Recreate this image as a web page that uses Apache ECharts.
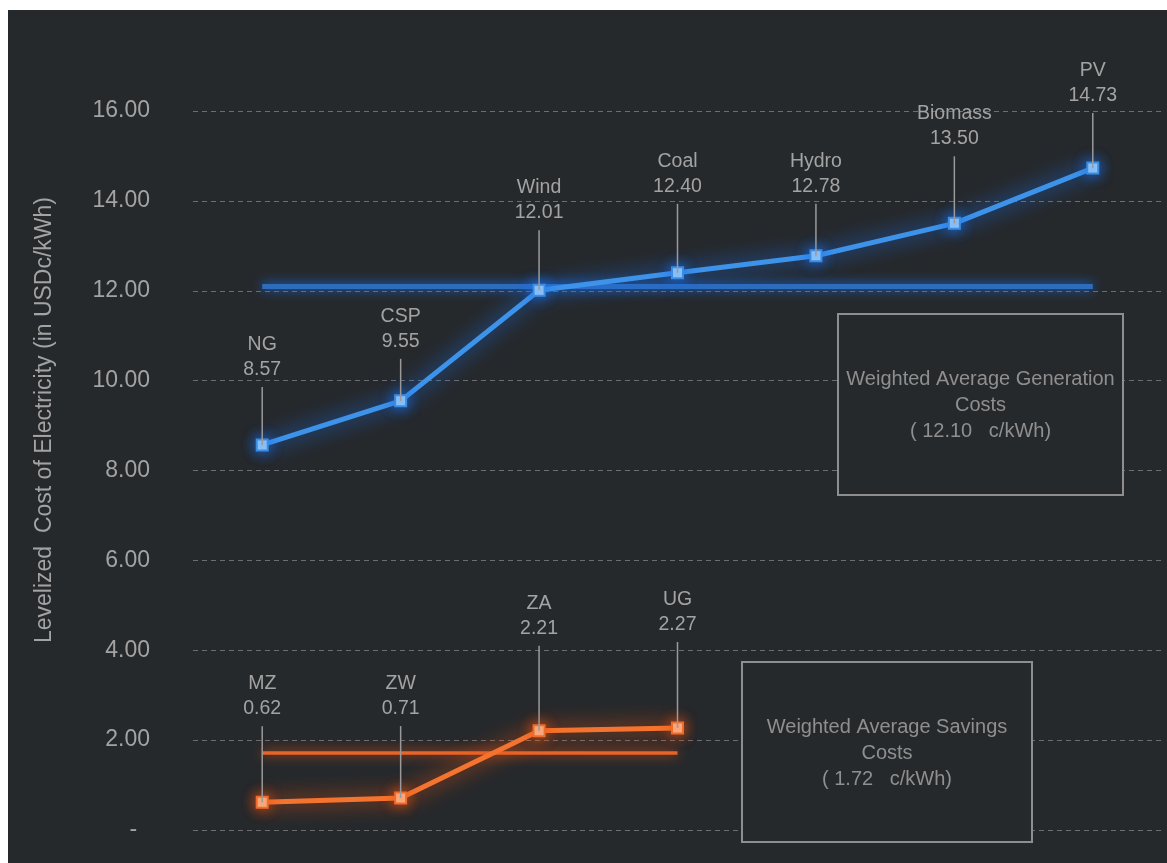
<!DOCTYPE html>
<html>
<head>
<meta charset="utf-8">
<title>Levelized Cost of Electricity</title>
<script src="https://cdn.jsdelivr.net/npm/echarts@6/dist/echarts.min.js"></script>
<style>
  html, body { margin: 0; padding: 0; background: #ffffff; }
  #chart { position: absolute; left: 8px; top: 10px; width: 1159px; height: 853px; }
</style>
</head>
<body>
<div id="chart"></div>
<script>
// Generation technologies and their levelized costs (USDc/kWh)
const genCategories = ['NG', 'CSP', 'Wind', 'Coal', 'Hydro', 'Biomass', 'PV'];
const genCosts = [8.57, 9.55, 12.01, 12.40, 12.78, 13.50, 14.73];
const genAverage = 12.10;

// Savings options by country (USDc/kWh)
const savingsCountries = ['MZ', 'ZW', 'ZA', 'UG'];
const savingsCosts = [0.62, 0.71, 2.21, 2.27];
const savingsAverage = 1.72;

// Value axis
const yMin = 0;
const yMax = 16;
const yStep = 2;

// Leader-line lengths (px) for the point callouts
const genLeader = [58, 42, 60, 69, 52, 67, 55];
const savingsLeader = [76, 72, 85, 86];

const FONT = "'Liberation Sans', Arial, sans-serif";
const TEXT = '#a3a3a3';
const BG = '#26292c';

const chart = echarts.init(document.getElementById('chart'));

function calloutRenderer(names, lifts) {
  return function (params, api) {
    const i = params.dataIndex;
    const v = api.value(1);
    const pt = api.coord([api.value(0), v]);
    const top = pt[1] - lifts[i];
    return {
      type: 'group',
      children: [
        {
          type: 'line',
          shape: { x1: pt[0], y1: pt[1], x2: pt[0], y2: top },
          style: { stroke: '#9a9a9a', lineWidth: 1.5 }
        },
        {
          type: 'text',
          x: pt[0],
          y: top - 5,
          style: {
            text: names[i] + '\n' + v.toFixed(2),
            fill: TEXT,
            fontSize: 19.5,
            fontFamily: FONT,
            lineHeight: 25,
            align: 'center',
            verticalAlign: 'bottom'
          }
        }
      ]
    };
  };
}

function glowLine(name, values, core, glow, markFill, markBorder, avg, avgEnd, avgColor, avgWidth) {
  return {
    name: name,
    type: 'line',
    data: values,
    z: 3,
    symbol: 'rect',
    symbolSize: 11,
    lineStyle: { color: core, width: 5, shadowBlur: 20, shadowColor: glow },
    itemStyle: { color: markFill, borderColor: markBorder, borderWidth: 2, shadowBlur: 14, shadowColor: glow },
    emphasis: { disabled: true },
    markLine: {
      silent: true,
      symbol: 'none',
      label: { show: false },
      z: 2,
      lineStyle: { color: avgColor, width: avgWidth, type: 'solid', shadowBlur: 12, shadowColor: glow, opacity: 1 },
      data: [[{ xAxis: 0, yAxis: avg }, { xAxis: avgEnd, yAxis: avg }]]
    }
  };
}

// Framed note box with centred text
function noteBox(x, y, w, h, text) {
  return {
    type: 'group',
    x: x,
    y: y,
    children: [
      { type: 'rect', z: 100, shape: { x: 0, y: 0, width: w, height: h },
        style: { fill: BG, stroke: '#8e8e8e', lineWidth: 2 } },
      { type: 'text', z: 101, x: w / 2, y: h / 2 + 1,
        style: {
          text: text,
          fill: '#8f8f8f', fontSize: 20, fontFamily: FONT, lineHeight: 26,
          align: 'center', verticalAlign: 'middle'
        } }
    ]
  };
}

const option = {
  backgroundColor: BG,
  animation: false,
  grid: { left: 185, right: 5, top: 101, bottom: 33 },
  xAxis: {
    type: 'category',
    data: genCategories,
    axisLine: { show: false },
    axisTick: { show: false },
    axisLabel: { show: false },
    splitLine: { show: false }
  },
  yAxis: {
    type: 'value',
    min: yMin,
    max: yMax,
    interval: yStep,
    axisLine: { show: false },
    axisTick: { show: false },
    axisLabel: {
      color: TEXT,
      fontSize: 23,
      fontFamily: FONT,
      margin: 43,
      formatter: function (v) { return v === 0 ? '-  ' : v.toFixed(2); }
    },
    splitLine: { lineStyle: { color: '#6b6d70', width: 1, type: [5, 4] } }
  },
  series: [
    glowLine('Generation', genCosts, '#3d92ea', 'rgba(25,115,245,1)', '#a3d0f5', '#3a8de3',
             genAverage, genCategories.length - 1, '#2e6cbc', 5),
    glowLine('Savings', savingsCosts, '#f4742f', 'rgba(240,85,15,1)', '#fabb96', '#f06b2b',
             savingsAverage, savingsCountries.length - 1, '#e8652a', 3.5),
    {
      type: 'custom',
      z: 5,
      silent: true,
      clip: false,
      renderItem: calloutRenderer(genCategories, genLeader),
      data: genCosts.map(function (v, i) { return [i, v]; })
    },
    {
      type: 'custom',
      z: 5,
      silent: true,
      clip: false,
      renderItem: calloutRenderer(savingsCountries, savingsLeader),
      data: savingsCosts.map(function (v, i) { return [i, v]; })
    }
  ],
  graphic: [
    {
      type: 'text',
      x: 37,
      y: 410,
      rotation: Math.PI / 2,
      style: {
        text: 'Levelized  Cost of Electricity (in USDc/kWh)',
        fill: TEXT,
        fontSize: 23,
        fontFamily: FONT,
        align: 'center',
        verticalAlign: 'middle'
      }
    },
    noteBox(830, 304, 285, 181,
      'Weighted Average Generation\nCosts\n( ' + genAverage.toFixed(2) + '   c/kWh)'),
    noteBox(734, 652, 290, 180,
      'Weighted Average Savings\nCosts\n( ' + savingsAverage.toFixed(2) + '   c/kWh)')
  ]
};

chart.setOption(option);
</script>
</body>
</html>
